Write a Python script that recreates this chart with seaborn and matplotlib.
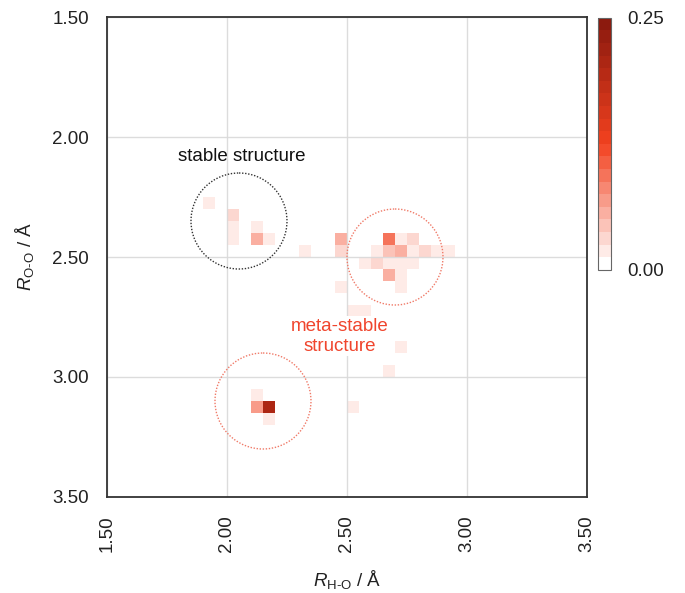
import numpy as np
import pandas as pd
import matplotlib
matplotlib.use("Agg")
import matplotlib.pyplot as plt
import seaborn as sns
from matplotlib.colors import LinearSegmentedColormap
from matplotlib.patches import Circle

# ---- data: 2D histogram cells (centres of 0.05 Å bins) ----
r_ho = [1.925, 2.025, 2.025, 2.025, 2.125, 2.125, 2.175, 2.325,
        2.475, 2.475, 2.675, 2.725, 2.775,
        2.625, 2.675, 2.725, 2.775, 2.825, 2.875, 2.925,
        2.575, 2.625, 2.675, 2.725, 2.775,
        2.675, 2.725, 2.725, 2.475, 2.525, 2.575, 2.475,
        2.725, 2.675, 2.525,
        2.125, 2.125, 2.175, 2.175]
r_oo = [2.275, 2.325, 2.375, 2.425, 2.375, 2.425, 2.425, 2.475,
        2.425, 2.475, 2.425, 2.425, 2.425,
        2.475, 2.475, 2.475, 2.475, 2.475, 2.475, 2.475,
        2.525, 2.525, 2.525, 2.525, 2.525,
        2.575, 2.575, 2.625, 2.625, 2.725, 2.725, 2.825,
        2.875, 2.975, 3.125,
        3.075, 3.125, 3.125, 3.175]
freq = [0.022, 0.035, 0.018, 0.018, 0.022, 0.055, 0.022, 0.018,
        0.050, 0.030, 0.090, 0.018, 0.030,
        0.018, 0.047, 0.057, 0.018, 0.030, 0.018, 0.018,
        0.018, 0.030, 0.018, 0.018, 0.018,
        0.057, 0.018, 0.018, 0.018, 0.018, 0.018, 0.018,
        0.020, 0.022, 0.020,
        0.018, 0.070, 0.205, 0.018]

tick_values = [1.50, 2.00, 2.50, 3.00, 3.50]
cbar_ticks = [0.00, 0.25]

df = pd.DataFrame({"r_ho": r_ho, "r_oo": r_oo, "freq": freq})

sns.set_theme(style="white")
plt.rcParams["font.family"] = ["Liberation Sans", "DejaVu Sans"]
plt.rcParams["mathtext.fontset"] = "custom"
plt.rcParams["mathtext.rm"] = "Liberation Sans"
plt.rcParams["mathtext.it"] = "Liberation Sans:italic"

cmap = LinearSegmentedColormap.from_list(
    "wr", [(0.0, "#FFFFFF"), (0.5, "#F2411F"), (1.0, "#8C1A0E")], N=20)

fig = plt.figure(figsize=(6.85, 5.93), dpi=100)
ax = fig.add_axes([0.1562, 0.1619, 0.7007, 0.8094])
cax = fig.add_axes([0.873, 0.545, 0.019, 0.425])

sns.histplot(data=df, x="r_ho", y="r_oo", weights="freq",
             binwidth=0.05, binrange=((1.5, 3.5), (1.5, 3.5)),
             cmap=cmap, vmin=0, vmax=0.25, cbar=True, cbar_ax=cax, ax=ax)

ax.set_xlim(1.5, 3.5)
ax.set_ylim(3.5, 1.5)
ax.set_axisbelow(False)
ax.grid(True, color="#D9D9D9", lw=1.0, alpha=0.9)

ax.set_xticks(tick_values)
ax.set_yticks(tick_values)
ax.set_xticklabels([f"{v:.2f}" for v in tick_values], rotation=90)
ax.set_yticklabels([f"{v:.2f}" for v in tick_values])
ax.tick_params(length=0, pad=13, labelsize=13.5, colors="#222222")

for s in ax.spines.values():
    s.set_color("#333333")
    s.set_linewidth(1.3)
    s.set_zorder(5)

ax.set_xlabel(r"$\mathit{R}_{\text{H-O}}$ / Å", fontsize=13.5, color="#222222", labelpad=12)
ax.set_ylabel(r"$\mathit{R}_{\text{O-O}}$ / Å", fontsize=13.5, color="#222222", labelpad=12)

# circles
ax.add_patch(Circle((2.05, 2.35), 0.2, fill=False, ls=(0, (1, 1.2)), lw=1.0, ec="#333333", zorder=3))
ax.add_patch(Circle((2.70, 2.50), 0.2, fill=False, ls=(0, (1, 1.2)), lw=1.0, ec="#F07A68", zorder=3))
ax.add_patch(Circle((2.15, 3.10), 0.2, fill=False, ls=(0, (1, 1.2)), lw=1.0, ec="#F07A68", zorder=3))

ax.text(2.06, 2.08, "stable structure", ha="center", va="center",
        fontsize=13.5, color="#111111", zorder=4)
ax.text(2.47, 2.83, "meta-stable\nstructure", ha="center", va="center",
        fontsize=13.5, color="#F0452D", linespacing=1.25, zorder=4,
        bbox=dict(fc="white", ec="none", pad=1))

# colorbar
cax.set_yticks(cbar_ticks)
cax.set_yticklabels([f"{v:.2f}" for v in cbar_ticks])
cax.tick_params(length=0, pad=12, labelsize=13.5, colors="#222222")
cb = ax.collections[0].colorbar
if cb is not None:
    cb.outline.set_edgecolor("#666666")
    cb.outline.set_linewidth(0.8)

fig.savefig("out.png", dpi=100)
